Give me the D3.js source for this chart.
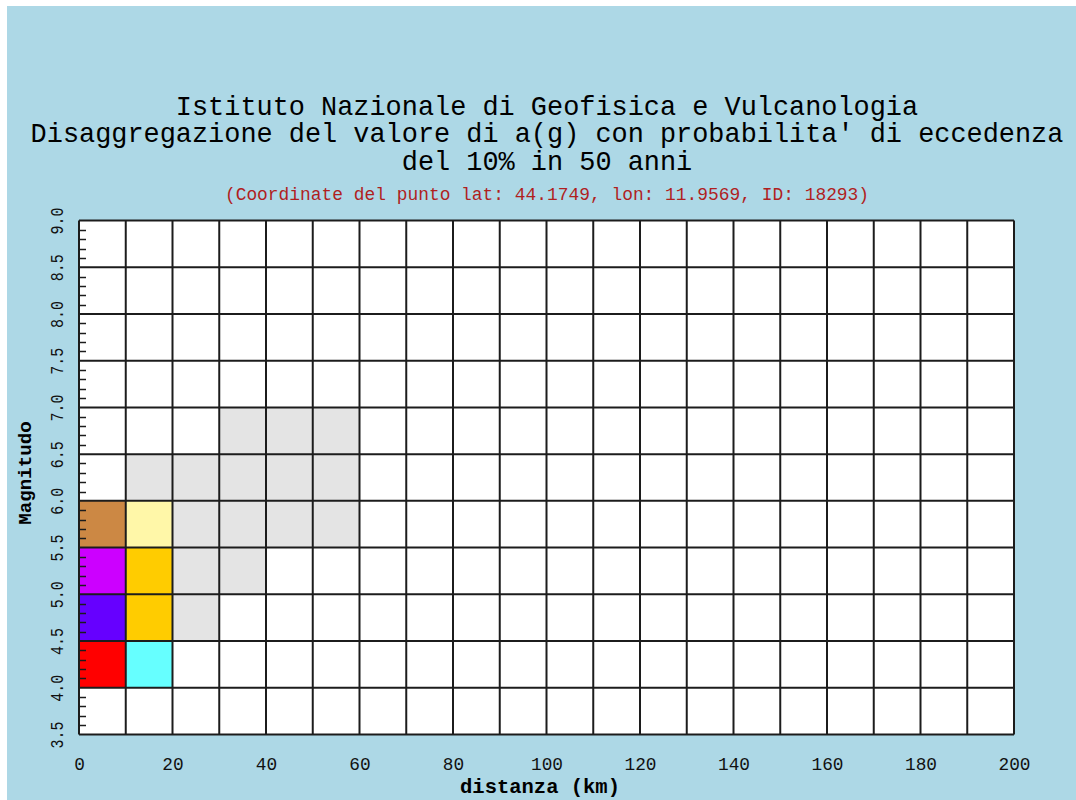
<!doctype html>
<html>
<head>
<meta charset="utf-8">
<title>Disaggregazione a(g)</title>
<script src="https://cdn.jsdelivr.net/npm/d3@7"></script>
<style>
  body { margin: 0; background: #fff; }
  text { font-family: "Liberation Mono", "DejaVu Sans Mono", monospace; }
</style>
</head>
<body>
<svg id="chart" width="1076" height="800"></svg>
<script>
// --- data ---
var titleLines = [
  "Istituto Nazionale di Geofisica e Vulcanologia",
  "Disaggregazione del valore di a(g) con probabilita' di eccedenza",
  "del 10% in 50 anni"
];
var subtitle = "(Coordinate del punto lat: 44.1749, lon: 11.9569, ID: 18293)";

var distBins = [0, 10, 20, 30, 40, 50, 60, 70, 80, 90, 100, 110, 120, 130, 140, 150, 160, 170, 180, 190, 200];
var magBins = [3.5, 4.0, 4.5, 5.0, 5.5, 6.0, 6.5, 7.0, 7.5, 8.0, 8.5, 9.0];
var xTicks = [0, 20, 40, 60, 80, 100, 120, 140, 160, 180, 200];
var yTicks = ["3.5", "4.0", "4.5", "5.0", "5.5", "6.0", "6.5", "7.0", "7.5", "8.0", "8.5", "9.0"];

// non empty cells: lower edge of distance bin, lower edge of magnitude bin, contribution class
var cellDist = [0, 10, 0, 10, 20, 0, 10, 20, 30, 0, 10, 20, 30, 40, 50, 10, 20, 30, 40, 50, 30, 40, 50];
var cellMag  = [4.0, 4.0, 4.5, 4.5, 4.5, 5.0, 5.0, 5.0, 5.0, 5.5, 5.5, 5.5, 5.5, 5.5, 5.5, 6.0, 6.0, 6.0, 6.0, 6.0, 6.5, 6.5, 6.5];
var cellClass = ["c8", "c2", "c7", "c5", "c0", "c6", "c5", "c0", "c0", "c4", "c3", "c0", "c0", "c0", "c0",
                 "c0", "c0", "c0", "c0", "c0", "c0", "c0", "c0"];
var classKeys = ["c0", "c2", "c3", "c4", "c5", "c6", "c7", "c8"];
var classColors = ["#e4e4e4", "#66ffff", "#fff7a8", "#cc8844", "#ffcc00", "#cc00ff", "#6600ff", "#ff0000"];

var W = 1076, H = 800;
var pLeft = 79, pRight = 1014, pTop = 220.5, pBottom = 734.5;

var svg = d3.select("#chart");

svg.append("rect")
  .attr("x", 7).attr("y", 6)
  .attr("width", W - 7).attr("height", H - 6)
  .attr("fill", "#add8e6");

var x = d3.scaleLinear().domain([0, 200]).range([pLeft, pRight]);
var y = d3.scaleLinear().domain([3.5, 9.0]).range([pBottom, pTop]);
var color = d3.scaleOrdinal().domain(classKeys).range(classColors);

// titles
svg.append("g").selectAll("text")
  .data(titleLines)
  .join("text")
  .attr("x", 547)
  .attr("y", function(d, i) { return 115 + i * 27.3; })
  .attr("text-anchor", "middle")
  .attr("font-size", 26.9)
  .attr("fill", "#000")
  .text(function(d) { return d; });

svg.append("text")
  .attr("x", 547).attr("y", 200)
  .attr("text-anchor", "middle")
  .attr("font-size", 17.9)
  .attr("fill", "#b01f1f")
  .text(subtitle);

// plot area
svg.append("rect")
  .attr("x", pLeft).attr("y", pTop)
  .attr("width", pRight - pLeft).attr("height", pBottom - pTop)
  .attr("fill", "#fff");

svg.append("g").selectAll("rect")
  .data(d3.range(cellDist.length))
  .join("rect")
  .attr("x", function(i) { return x(cellDist[i]); })
  .attr("y", function(i) { return y(cellMag[i] + 0.5); })
  .attr("width", function(i) { return x(cellDist[i] + 10) - x(cellDist[i]); })
  .attr("height", function(i) { return y(cellMag[i]) - y(cellMag[i] + 0.5); })
  .attr("fill", function(i) { return color(cellClass[i]); });

// grid
var grid = svg.append("g").attr("stroke", "#1c1c1c").attr("stroke-width", 2);
grid.selectAll("line.v")
  .data(distBins)
  .join("line")
  .attr("class", "v")
  .attr("x1", function(d) { return x(d); }).attr("x2", function(d) { return x(d); })
  .attr("y1", pTop).attr("y2", pBottom);
grid.selectAll("line.h")
  .data(magBins)
  .join("line")
  .attr("class", "h")
  .attr("x1", pLeft).attr("x2", pRight)
  .attr("y1", function(d) { return y(d); }).attr("y2", function(d) { return y(d); });

// minor ticks every 0.1 inside the left edge
var minor = d3.range(35, 91).filter(function(v) { return v % 5 !== 0; }).map(function(v) { return v / 10; });
svg.append("g").selectAll("line")
  .data(minor)
  .join("line")
  .attr("x1", pLeft).attr("x2", pLeft + 7)
  .attr("y1", function(d) { return Math.round(y(d)) + 0.5; })
  .attr("y2", function(d) { return Math.round(y(d)) + 0.5; })
  .attr("stroke", "#1c1c1c")
  .attr("stroke-width", 1.5);

// x axis labels
var xAxis = svg.append("g")
  .attr("transform", "translate(0," + pBottom + ")")
  .call(d3.axisBottom(x).tickValues(xTicks).tickSize(0).tickPadding(35).tickFormat(d3.format("d")));
xAxis.select(".domain").remove();
xAxis.selectAll("text")
  .attr("font-family", "Liberation Mono, DejaVu Sans Mono, monospace")
  .attr("font-size", 17.8)
  .attr("fill", "#111")
  .attr("dy", 0);

// y axis labels (rotated)
var yAxis = svg.append("g")
  .attr("transform", "translate(63,0)")
  .call(d3.axisLeft(y).tickValues(yTicks.map(Number)).tickSize(0).tickFormat(d3.format(".1f")));
yAxis.select(".domain").remove();
yAxis.selectAll("text")
  .attr("font-family", "Liberation Mono, DejaVu Sans Mono, monospace")
  .attr("font-size", 19)
  .attr("fill", "#111")
  .attr("x", 0).attr("dy", 0)
  .attr("text-anchor", "middle")
  .attr("transform", "rotate(-90)")
  .attr("textLength", 27)
  .attr("lengthAdjust", "spacingAndGlyphs");

// axis titles
svg.append("text")
  .attr("x", 540).attr("y", 793)
  .attr("text-anchor", "middle")
  .attr("font-size", 20.5)
  .attr("font-weight", "bold")
  .attr("fill", "#000")
  .text("distanza (km)");

svg.append("text")
  .attr("transform", "translate(31,473) rotate(-90)")
  .attr("text-anchor", "middle")
  .attr("font-size", 19.2)
  .attr("font-weight", "bold")
  .attr("fill", "#000")
  .text("Magnitudo");
</script>
</body>
</html>
